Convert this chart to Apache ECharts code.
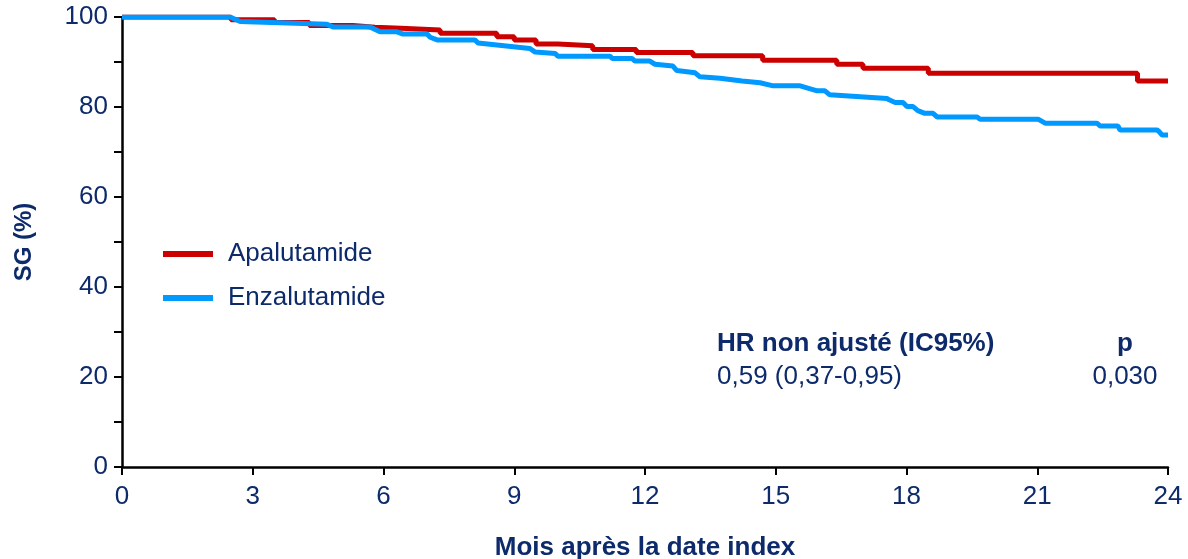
<!DOCTYPE html>
<html>
<head>
<meta charset="utf-8">
<script src="https://cdn.jsdelivr.net/npm/echarts@6.0.0/dist/echarts.min.js"></script>
<style>
  html, body { margin: 0; padding: 0; background: #fff; }
  #chart { width: 1188px; height: 559px; }
</style>
</head>
<body>
<div id="chart"></div>
<script>
"use strict";

// Kaplan-Meier, SG (%) par mois
var apaMonths = [0, 2.5, 3.5, 4.3, 5.3, 5.8, 6.4, 7.3, 8.6, 9.0, 9.5, 10.0, 10.8, 11.8, 13.1, 14.7, 16.4, 17.0, 18.5, 23.3, 24];
var apaSurv   = [100, 99.4, 98.8, 98.1, 97.7, 97.5, 97.1, 96.4, 95.6, 94.9, 94.0, 93.6, 92.8, 92.1, 91.4, 90.4, 89.5, 88.6, 87.5, 85.8, 85.8];

var enzaMonths = [0, 2.48, 2.71, 4.70, 4.84, 5.69, 5.92, 6.31, 6.45, 7.0,
    7.07, 7.23, 8.10, 8.17, 9.36, 9.48, 9.94, 10.0, 11.2, 11.25,
    11.7, 11.77, 12.11, 12.23, 12.64, 12.73, 13.15, 13.26, 13.72, 14.23,
    14.25, 14.64, 14.94, 15.56, 15.95, 16.13, 16.24, 17.55, 17.6, 17.74,
    17.92, 18.01, 18.15, 18.26, 18.42, 18.61, 18.7, 19.62, 19.69, 21.02,
    21.18, 22.37, 22.44, 22.85, 22.9, 23.75, 23.8, 23.86, 24];
var enzaSurv = [100, 100, 99.0, 98.4, 97.8, 97.8, 96.7, 96.7, 96.2, 96.2,
    95.5, 94.9, 94.9, 94.2, 93.0, 92.2, 91.9, 91.3, 91.3, 90.8,
    90.8, 90.2, 90.2, 89.5, 89.1, 88.1, 87.6, 86.7, 86.4, 85.8,
    85.4, 85.4, 84.7, 84.7, 83.6, 83.6, 82.7, 81.9, 81.6, 81.0,
    81.0, 80.1, 80.1, 79.2, 78.6, 78.6, 77.8, 77.8, 77.3, 77.3,
    76.4, 76.4, 75.8, 75.8, 74.9, 74.9, 74.5, 73.8, 73.8];

var seriesNames = ['Apalutamide', 'Enzalutamide'];
var xTicks = [0, 3, 6, 9, 12, 15, 18, 21, 24];
var yLabels = [0, 20, 40, 60, 80, 100];
var hrHeader = ['HR non ajusté (IC95%)', 'p'];
var hrValues = ['0,59 (0,37-0,95)', '0,030'];

var navy = '#0d2a6b';
var font = "'Liberation Sans', Arial, sans-serif";

function zip(xs, ys) {
    var out = [];
    for (var i = 0; i < xs.length; i++) out.push([xs[i], ys[i]]);
    return out;
}

var dom = document.getElementById('chart');
var myChart = echarts.init(dom, null, { renderer: 'canvas' });

var option = {
    animation: false,
    textStyle: { fontFamily: font, color: navy },
    grid: { left: 122, right: 20, top: 17, bottom: 92, containLabel: false, outerBoundsMode: 'none' },
    legend: {
        data: seriesNames,
        orient: 'vertical',
        left: 163,
        top: 241,
        padding: 0,
        icon: 'rect',
        itemWidth: 50,
        itemHeight: 6,
        itemGap: 18,
        textStyle: { fontSize: 26, color: navy, fontFamily: font, padding: [0, 0, 0, 10] }
    },
    xAxis: {
        type: 'value',
        min: 0,
        max: 24,
        interval: 3,
        name: 'Mois après la date index',
        nameLocation: 'middle',
        nameGap: 68,
        nameTextStyle: { fontSize: 26, fontWeight: 'bold', color: navy, fontFamily: font },
        splitLine: { show: false },
        axisLine: { lineStyle: { color: '#000', width: 2.5 } },
        axisTick: { length: 8, lineStyle: { color: '#000', width: 2 } },
        axisLabel: {
            margin: 17,
            fontSize: 26,
            color: navy,
            fontFamily: font,
            formatter: function (v) { return xTicks.indexOf(v) >= 0 ? String(v) : ''; }
        }
    },
    yAxis: {
        type: 'value',
        min: 0,
        max: 100,
        interval: 10,
        name: 'SG (%)',
        nameLocation: 'middle',
        nameGap: 86,
        nameRotate: 90,
        nameTextStyle: { fontSize: 24, fontWeight: 'bold', color: navy, fontFamily: font },
        splitLine: { show: false },
        axisLine: { show: true, lineStyle: { color: '#000', width: 2.5 } },
        axisTick: { show: true, length: 8, lineStyle: { color: '#000', width: 2 } },
        axisLabel: {
            margin: 14,
            fontSize: 26,
            color: navy,
            fontFamily: font,
            formatter: function (v) { return yLabels.indexOf(v) >= 0 ? String(v) : ''; }
        }
    },
    series: [
        {
            name: seriesNames[0],
            type: 'line',
            step: 'end',
            showSymbol: false,
            itemStyle: { color: '#cc0000' },
            lineStyle: { color: '#cc0000', width: 5 },
            data: zip(apaMonths, apaSurv)
        },
        {
            name: seriesNames[1],
            type: 'line',
            showSymbol: false,
            itemStyle: { color: '#0099ff' },
            lineStyle: { color: '#0099ff', width: 5 },
            data: zip(enzaMonths, enzaSurv)
        }
    ],
    graphic: [
        { type: 'text', left: 717, top: 331,
          style: { text: hrHeader[0], font: 'bold 26px ' + font, fill: navy } },
        { type: 'text', left: 717, top: 364,
          style: { text: hrValues[0], font: '26px ' + font, fill: navy } },
        { type: 'text', x: 1125, y: 331,
          style: { text: hrHeader[1], font: 'bold 26px ' + font, fill: navy, textAlign: 'center' } },
        { type: 'text', x: 1125, y: 364,
          style: { text: hrValues[1], font: '26px ' + font, fill: navy, textAlign: 'center' } }
    ]
};

if (option && typeof option === "object") {
    myChart.setOption(option, true);
}
</script>
</body>
</html>
